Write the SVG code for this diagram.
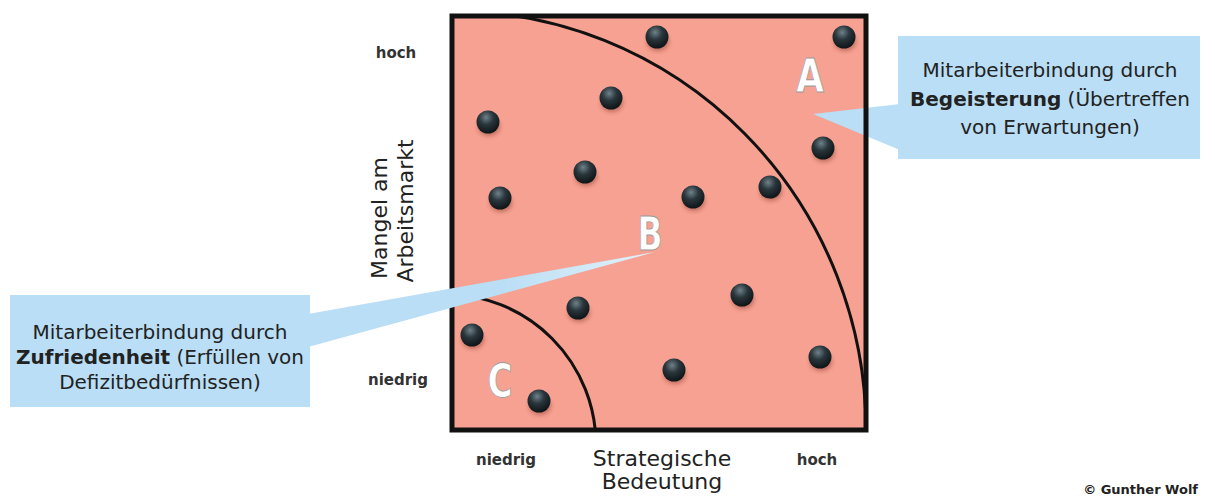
<svg xmlns="http://www.w3.org/2000/svg" xmlns:xlink="http://www.w3.org/1999/xlink" width="1215" height="497" viewBox="0 0 1215 497">
  <style>
    .lbl { font-family: "DejaVu Sans", "Liberation Sans", sans-serif; fill: #222; }
    .axis { font-size: 22px; }
    .tick { font-size: 15px; font-weight: bold; fill: #333; }
    .note { font-size: 20px; text-anchor: middle; }
    .note .b { font-weight: bold; }
    .zone { font-family: "DejaVu Sans", "Liberation Sans", sans-serif; font-size: 46px; font-weight: bold; fill: #ffffff; stroke: #9a9a9a; stroke-width: 0.8; text-anchor: middle; }
    .arc { fill: none; stroke: #111; stroke-width: 3; }
    .callout { fill: #b9def5; }
  </style>
  <defs>
    <clipPath id="inside">
      <rect x="452" y="16" width="414" height="414"/>
    </clipPath>
    <radialGradient id="sphere" cx="0.42" cy="0.3" r="0.7">
      <stop offset="0" stop-color="#6f8189"/>
      <stop offset="0.45" stop-color="#29363c"/>
      <stop offset="1" stop-color="#0e1417"/>
    </radialGradient>
    <linearGradient id="tipFade" x1="310" y1="0" x2="655" y2="0" gradientUnits="userSpaceOnUse">
      <stop offset="0" stop-color="#b9def5"/>
      <stop offset="0.55" stop-color="#b9def5"/>
      <stop offset="1" stop-color="#e4f2fb"/>
    </linearGradient>
    <filter id="soft" x="-50%" y="-50%" width="200%" height="200%">
      <feGaussianBlur stdDeviation="2"/>
    </filter>
    <g id="ball">
      <ellipse cx="1" cy="5" rx="11" ry="9" fill="#7a2e22" opacity="0.45" filter="url(#soft)"/>
      <circle r="11.5" fill="url(#sphere)"/>
    </g>
  </defs>

  <!-- matrix field -->
  <g id="field">
    <rect x="452" y="16" width="414" height="414" fill="#f6a191"/>
    <g clip-path="url(#inside)">
      <path class="arc" d="M 452 11 A 414 419 0 0 1 866 430"/>
      <path class="arc" d="M 445 294 A 151 151 0 0 1 596 445"/>
    </g>
  </g>

  <!-- data points -->
  <g id="points">
    <use xlink:href="#ball" x="657" y="37"/>
    <use xlink:href="#ball" x="844" y="37"/>
    <use xlink:href="#ball" x="611" y="98"/>
    <use xlink:href="#ball" x="488" y="122"/>
    <use xlink:href="#ball" x="823" y="148"/>
    <use xlink:href="#ball" x="585" y="172"/>
    <use xlink:href="#ball" x="500" y="198"/>
    <use xlink:href="#ball" x="693" y="197"/>
    <use xlink:href="#ball" x="770" y="187"/>
    <use xlink:href="#ball" x="742" y="295"/>
    <use xlink:href="#ball" x="578" y="308"/>
    <use xlink:href="#ball" x="472" y="335"/>
    <use xlink:href="#ball" x="820" y="357"/>
    <use xlink:href="#ball" x="674" y="370"/>
    <use xlink:href="#ball" x="539" y="401"/>
  </g>

  <!-- callout A pointer sits beneath the frame -->
  <g id="callout-a-pointer">
    <polygon class="callout" points="813,114 900,104 900,150"/>
  </g>

  <!-- zone letters -->
  <g id="zone-a"><text class="zone" x="810" y="92" textLength="28" lengthAdjust="spacingAndGlyphs">A</text></g>
  <g id="zone-c"><text class="zone" x="500" y="397" textLength="25" lengthAdjust="spacingAndGlyphs">C</text></g>

  <!-- frame -->
  <rect id="frame" x="452" y="16" width="414" height="414" fill="none" stroke="#111" stroke-width="5"/>

  <!-- callout B pointer crosses the frame -->
  <g id="callout-b-pointer">
    <polygon points="308,314 655,252 308,347" fill="url(#tipFade)"/>
  </g>
  <g id="zone-b"><text class="zone" x="650" y="250" textLength="25" lengthAdjust="spacingAndGlyphs">B</text></g>

  <!-- axis labels -->
  <g id="axis-y" class="lbl">
    <text class="tick" x="396" y="58" text-anchor="middle">hoch</text>
    <text class="tick" x="398" y="385" text-anchor="middle">niedrig</text>
    <text class="axis" transform="translate(387,218) rotate(-90)" text-anchor="middle">Mangel am</text>
    <text class="axis" transform="translate(413,211) rotate(-90)" text-anchor="middle">Arbeitsmarkt</text>
  </g>
  <g id="axis-x" class="lbl">
    <text class="tick" x="506" y="465" text-anchor="middle">niedrig</text>
    <text class="tick" x="817" y="465" text-anchor="middle">hoch</text>
    <text class="axis" x="662" y="466" text-anchor="middle">Strategische</text>
    <text class="axis" x="662" y="489" text-anchor="middle">Bedeutung</text>
  </g>

  <!-- callout A -->
  <g id="callout-a">
    <rect class="callout" x="898" y="36" width="302" height="123"/>
    <text class="lbl note" x="1050" y="77">Mitarbeiterbindung durch</text>
    <text class="lbl note" x="1050" y="106"><tspan class="b">Begeisterung</tspan> (Übertreffen</text>
    <text class="lbl note" x="1050" y="134">von Erwartungen)</text>
  </g>

  <!-- callout B -->
  <g id="callout-b">
    <rect class="callout" x="10" y="295" width="300" height="112"/>
    <text class="lbl note" x="160" y="339">Mitarbeiterbindung durch</text>
    <text class="lbl note" x="160" y="364"><tspan class="b">Zufriedenheit</tspan> (Erfüllen von</text>
    <text class="lbl note" x="160" y="389">Defizitbedürfnissen)</text>
  </g>

  <text id="credit" class="lbl" x="1198" y="494" text-anchor="end" font-size="13" font-weight="bold">© Gunther Wolf</text>
</svg>
